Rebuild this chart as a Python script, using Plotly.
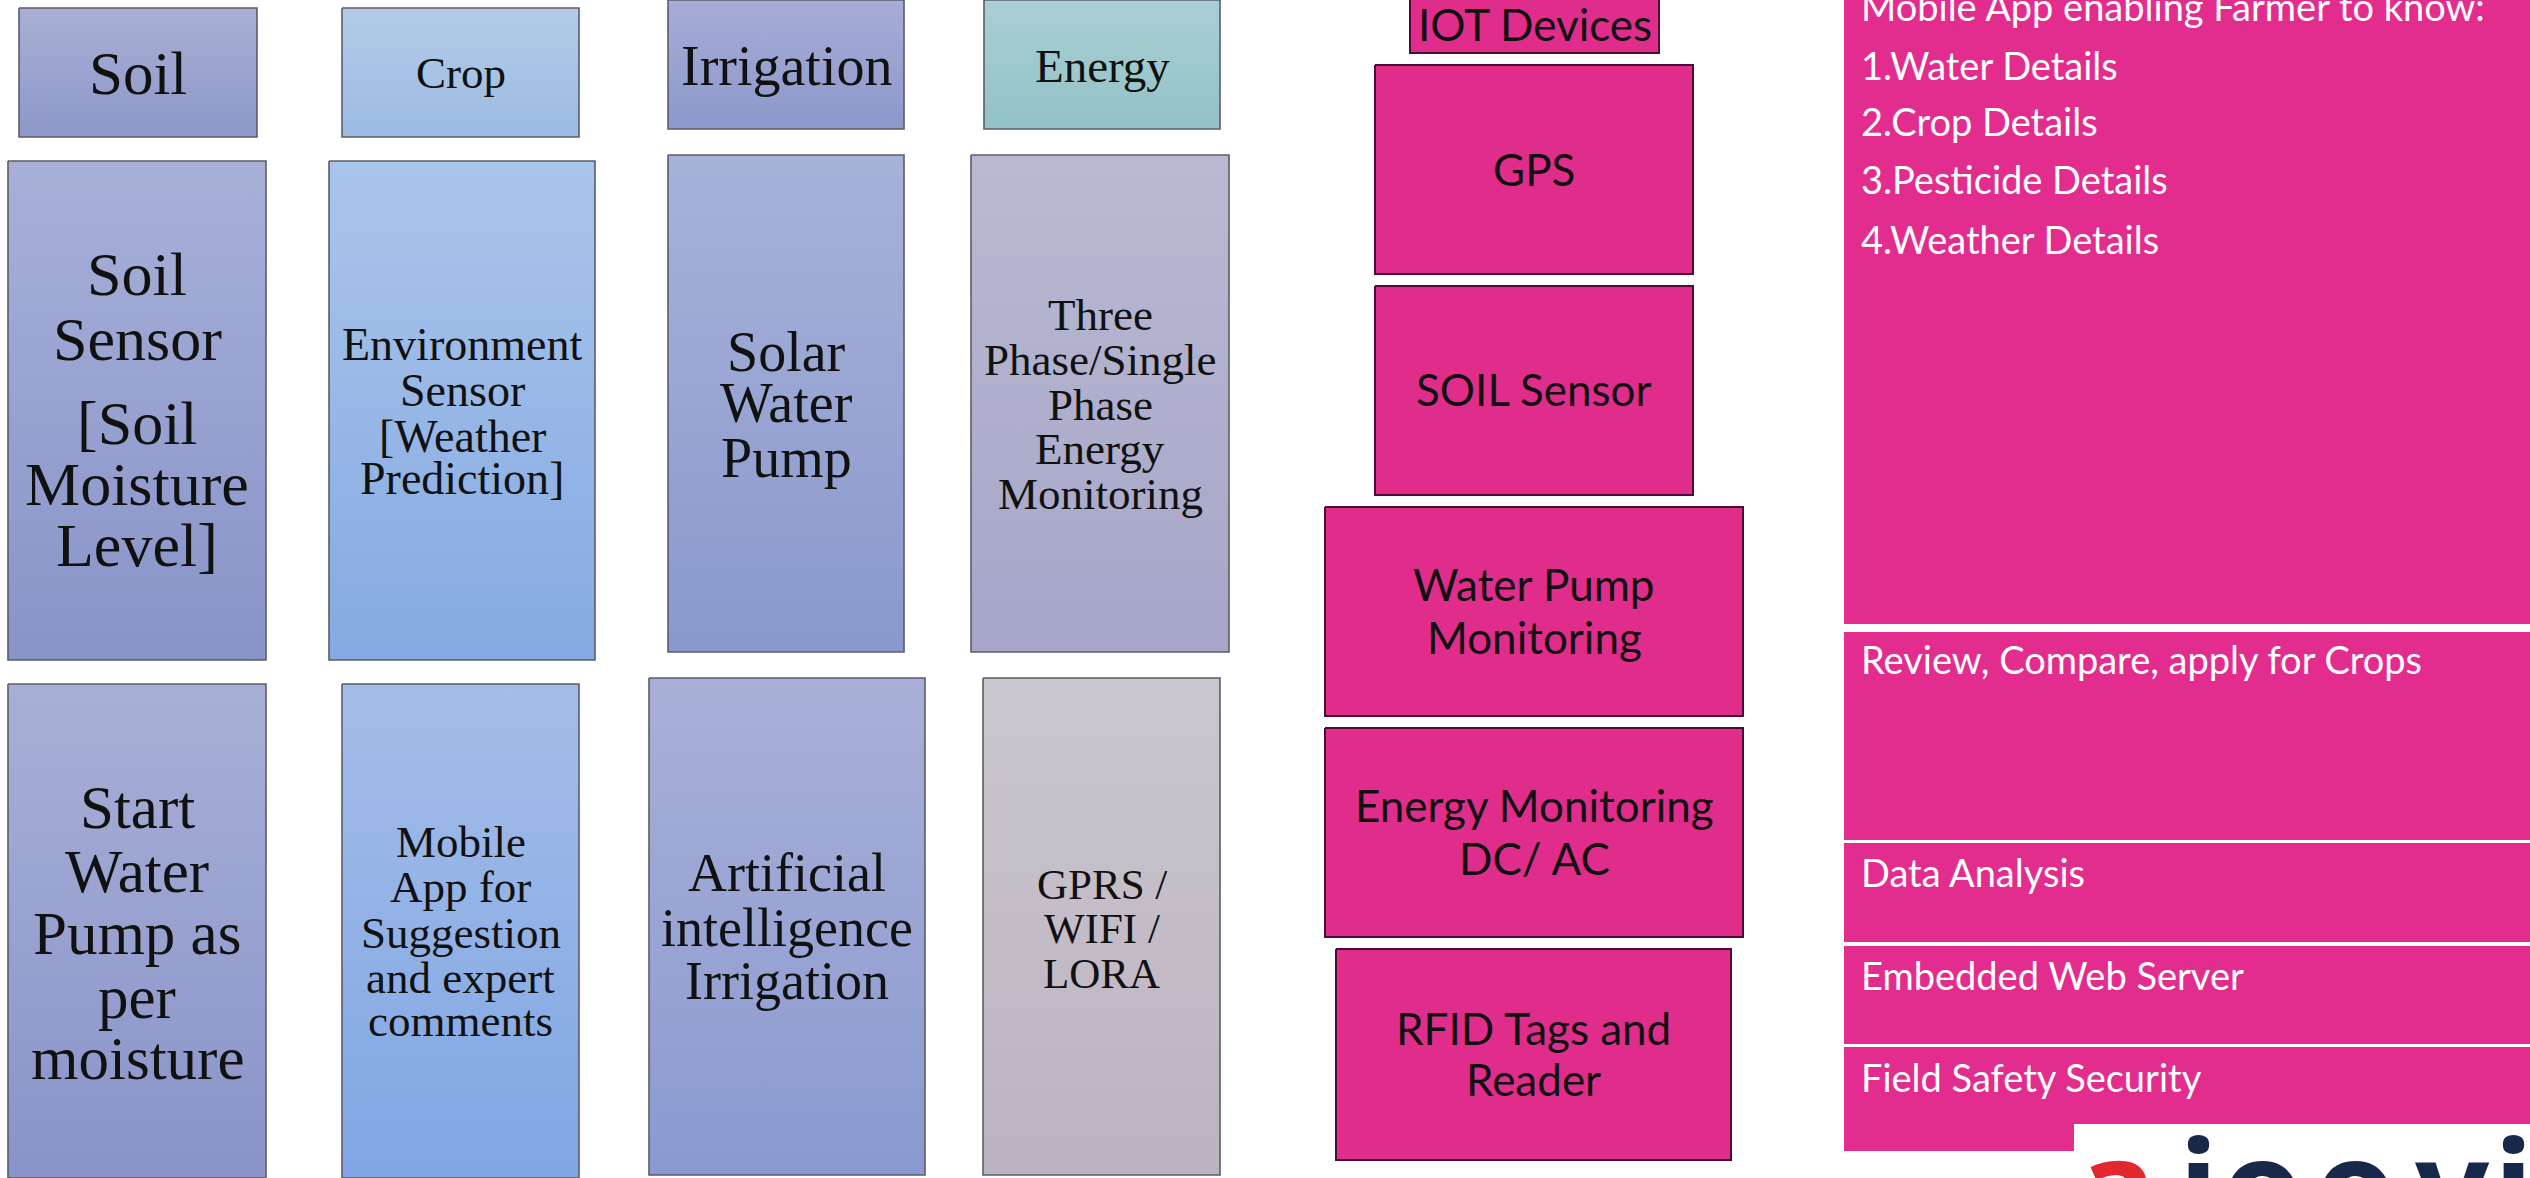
import plotly.graph_objects as go

W, H = 2530, 1178

# ---------------- content (text of each block) ----------------
left_labels = [
    ["Soil"],
    ["Crop"],
    ["Irrigation"],
    ["Energy"],
    ["Soil", "Sensor", "[Soil", "Moisture", "Level]"],
    ["Environment", "Sensor", "[Weather", "Prediction]"],
    ["Solar", "Water", "Pump"],
    ["Three", "Phase/Single", "Phase", "Energy", "Monitoring"],
    ["Start", "Water", "Pump as", "per", "moisture"],
    ["Mobile", "App for", "Suggestion", "and expert", "comments"],
    ["Artificial", "intelligence", "Irrigation"],
    ["GPRS /", "WIFI /", "LORA"],
]
iot_labels = [
    ["IOT Devices"],
    ["GPS"],
    ["SOIL Sensor"],
    ["Water Pump", "Monitoring"],
    ["Energy Monitoring", "DC/ AC"],
    ["RFID Tags and", "Reader"],
]
app_labels = [
    ["Mobile App enabling Farmer to know:", "1.Water Details", "2.Crop Details",
     "3.Pesticide Details", "4.Weather Details"],
    ["Review, Compare, apply for Crops"],
    ["Data Analysis"],
    ["Embedded Web Server"],
    ["Field Safety Security"],
]
logo_letters = ["a", "i", "o", "o", "v", "i"]

# ---------------- layout (pixel positions, measured from top-left) ----------------
left_boxes = [
    (19, 257, 8, 137), (342, 579, 8, 137), (668, 904, 0, 129), (984, 1220, 0, 129),
    (8, 266, 161, 660), (329, 595, 161, 660), (668, 904, 155, 652), (971, 1229, 155, 652),
    (8, 266, 684, 1178), (342, 579, 684, 1178), (649, 925, 678, 1175), (983, 1220, 678, 1175),
]
left_line_y = [
    [73], [73], [66], [66],
    [274, 339, 423, 484, 545],
    [344, 390, 436, 478],
    [352, 403, 458],
    [315, 360, 405, 449, 494],
    [807, 871, 933, 997, 1058],
    [842, 887, 933, 978, 1021],
    [873, 928, 981],
    [884, 928, 973],
]
left_font = [61, 45, 56, 47, 62, 46, 56, 45, 61, 45, 54, 43]
left_colors = [
    ("#a9afd4", "#8d97c9"), ("#b3cbe8", "#9bbbe2"), ("#a8acd6", "#8c98cb"), ("#aacfd4", "#92c2c6"),
    ("#a8b0d8", "#8893c8"), ("#a9c5ea", "#85a9e2"), ("#a8b1d8", "#8999cd"), ("#b9b9d2", "#a5a6c8"),
    ("#a8afd6", "#8993c9"), ("#a3bde8", "#80a6e4"), ("#a9afd7", "#8a9ad0"), ("#cbc7ce", "#bcb2c0"),
]

iot_boxes = [
    (1410, 1659, -2, 53), (1375, 1693, 65, 274), (1375, 1693, 286, 495),
    (1325, 1743, 507, 716), (1325, 1743, 728, 937), (1336, 1731, 949, 1160),
]
iot_line_y = [[24], [169], [389], [584, 637], [805, 858], [1028, 1079]]

app_boxes = [
    (1844, 2530, 0, 624), (1844, 2530, 632, 840), (1844, 2530, 843, 942),
    (1844, 2530, 946, 1044), (1844, 2530, 1047, 1151),
]
app_line_y = [[6, 65, 121, 179, 239], [659], [872], [975], [1077]]
app_text_x = 1859

logo_x = [2117, 2198, 2262, 2355, 2452, 2513]
logo_colors = ["#e0282e", "#17284a", "#17284a", "#17284a", "#17284a", "#17284a"]

PINK_MID = "#e02d8c"
PINK_APP = "#e32d8e"


def Y(py):
    return H - py


fig = go.Figure()
annotations = []


def add_box(x0, x1, y0, y1, fill=None, grad=None, line_color=None, line_width=0):
    xs = [x0, x1, x1, x0, x0]
    ys = [Y(y0), Y(y0), Y(y1), Y(y1), Y(y0)]
    kw = dict(x=xs, y=ys, mode="lines", fill="toself", hoverinfo="skip", showlegend=False,
              line=dict(color=line_color if line_color else "rgba(0,0,0,0)",
                        width=line_width if line_width else 0.1))
    if grad is not None:
        top, bottom = grad
        kw["fillgradient"] = dict(type="vertical", colorscale=[[0, bottom], [1, top]])
    else:
        kw["fillcolor"] = fill
    fig.add_trace(go.Scatter(**kw))


# left blocks (serif, gradient)
for box, lines, ys, fs, cols in zip(left_boxes, left_labels, left_line_y, left_font, left_colors):
    x0, x1, y0, y1 = box
    add_box(x0, x1, y0, y1, grad=cols, line_color="#5c5c68", line_width=1.6)
    for txt, ly in zip(lines, ys):
        annotations.append(dict(x=(x0 + x1) / 2, y=Y(ly), text=txt, showarrow=False,
                                xanchor="center", yanchor="middle",
                                font=dict(family="Liberation Serif, Times New Roman, serif",
                                          size=fs, color="#111111")))

# middle IOT blocks
for box, lines, ys in zip(iot_boxes, iot_labels, iot_line_y):
    x0, x1, y0, y1 = box
    add_box(x0, x1, y0, y1, fill=PINK_MID, line_color="#4b0d35", line_width=2)
    for txt, ly in zip(lines, ys):
        annotations.append(dict(x=(x0 + x1) / 2, y=Y(ly), text=txt, showarrow=False,
                                xanchor="center", yanchor="middle",
                                font=dict(family="Lato, Noto Sans, sans-serif", size=44,
                                          color="#111111")))

# right app blocks
for box, lines, ys in zip(app_boxes, app_labels, app_line_y):
    x0, x1, y0, y1 = box
    add_box(x0, x1, y0, y1, fill=PINK_APP)
    for txt, ly in zip(lines, ys):
        annotations.append(dict(x=app_text_x, y=Y(ly), text=txt, showarrow=False,
                                xanchor="left", yanchor="middle",
                                font=dict(family="Lato, Noto Sans, sans-serif", size=38,
                                          color="#ffffff")))

# white logo area
add_box(2074, 2540, 1124, 1190, fill="#ffffff")
for ch, lx, lc in zip(logo_letters, logo_x, logo_colors):
    annotations.append(dict(x=lx, y=Y(1092), text="<b>%s</b>" % ch, showarrow=False,
                            xanchor="center", yanchor="top",
                            font=dict(family="Noto Sans, sans-serif", size=130, color=lc)))

fig.update_layout(
    width=W, height=H,
    margin=dict(l=0, r=0, t=0, b=0),
    paper_bgcolor="#ffffff", plot_bgcolor="#ffffff",
    xaxis=dict(range=[0, W], visible=False, fixedrange=True),
    yaxis=dict(range=[0, H], visible=False, fixedrange=True),
    annotations=annotations,
    showlegend=False,
)

fig.write_html("out.html", include_plotlyjs=True,
               config={"displayModeBar": False, "staticPlot": True},
               post_script="document.body.style.margin='0';document.body.style.overflow='hidden';")
